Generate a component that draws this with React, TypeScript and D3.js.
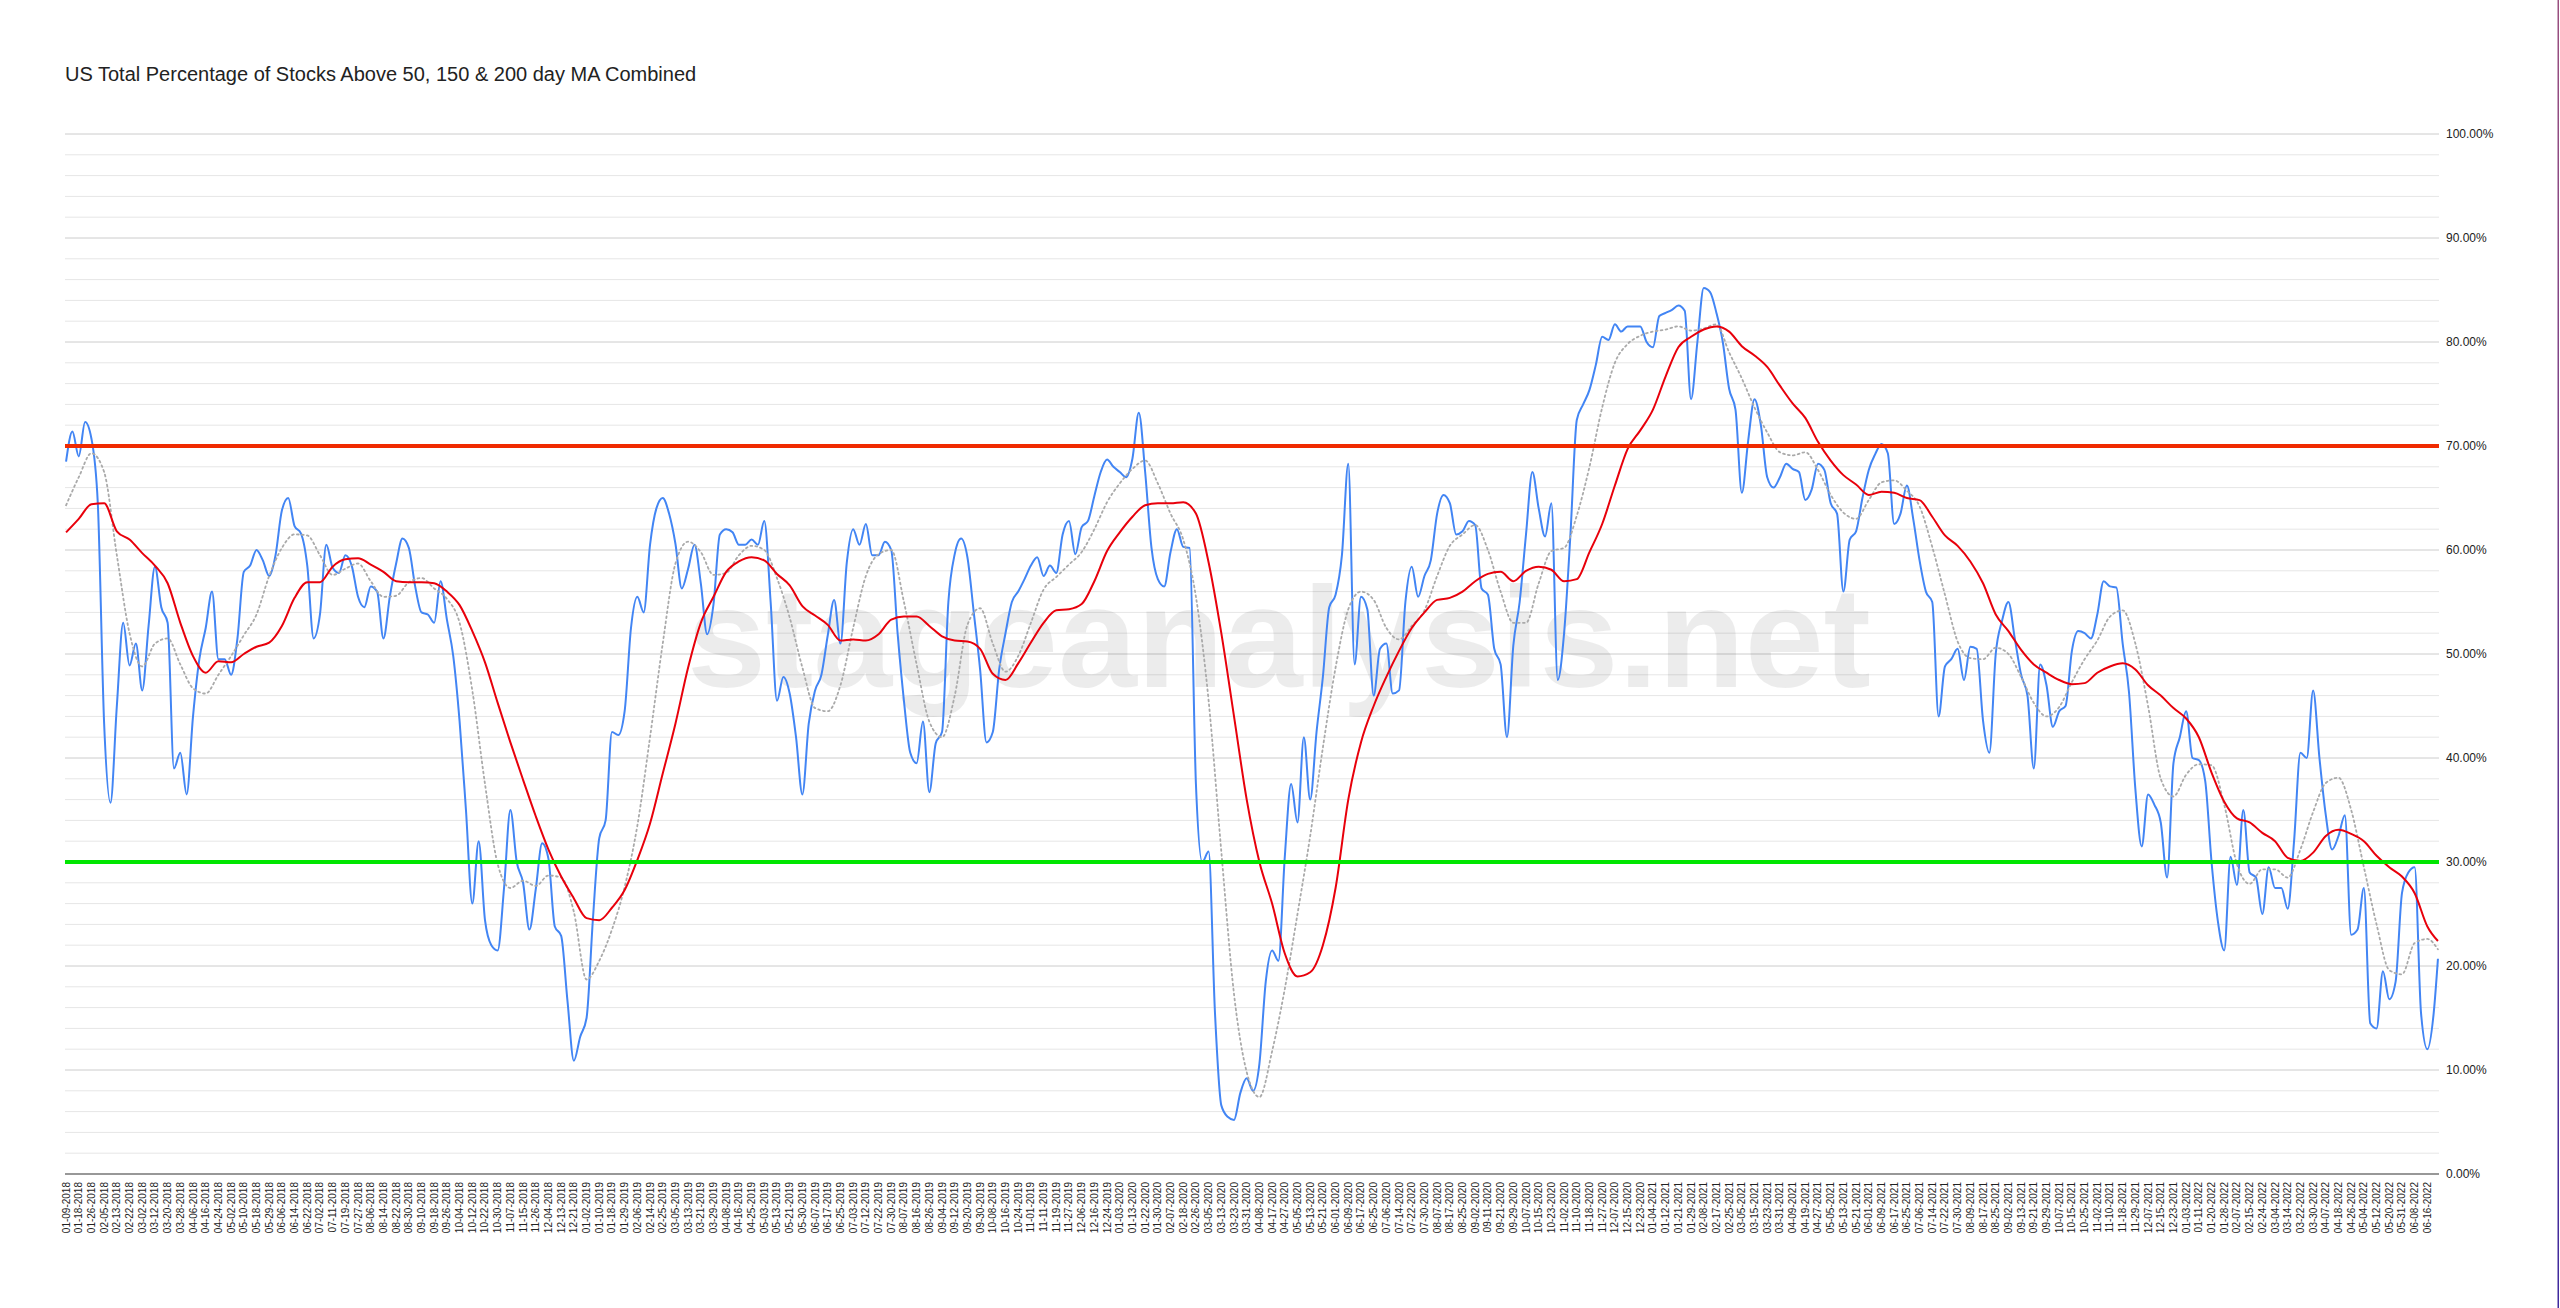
import React from 'react';
import * as d3 from 'd3';

const TITLE = 'US Total Percentage of Stocks Above 50, 150 & 200 day MA Combined';
const WATERMARK = 'stageanalysis.net';

// number of trading sessions on the axis (01-09-2018 .. 06-24-2022)
const SESSION_COUNT = 1122;
const LABEL_EVERY = 6; // a date label every 6 sessions
const COMBINED_EVERY = 3; // combined % read every 3 sessions
const MA_EVERY = 6; // moving averages read every 6 sessions

const dateLabels = [
  '01-09-2018','01-18-2018','01-26-2018','02-05-2018','02-13-2018','02-22-2018','03-02-2018','03-12-2018','03-20-2018','03-28-2018',
  '04-06-2018','04-16-2018','04-24-2018','05-02-2018','05-10-2018','05-18-2018','05-29-2018','06-06-2018','06-14-2018','06-22-2018',
  '07-02-2018','07-11-2018','07-19-2018','07-27-2018','08-06-2018','08-14-2018','08-22-2018','08-30-2018','09-10-2018','09-18-2018',
  '09-26-2018','10-04-2018','10-12-2018','10-22-2018','10-30-2018','11-07-2018','11-15-2018','11-26-2018','12-04-2018','12-13-2018',
  '12-21-2018',
  '01-02-2019','01-10-2019','01-18-2019','01-29-2019','02-06-2019','02-14-2019','02-25-2019','03-05-2019','03-13-2019','03-21-2019',
  '03-29-2019','04-08-2019','04-16-2019','04-25-2019','05-03-2019','05-13-2019','05-21-2019','05-30-2019','06-07-2019','06-17-2019',
  '06-25-2019','07-03-2019','07-12-2019','07-22-2019','07-30-2019','08-07-2019','08-16-2019','08-26-2019','09-04-2019','09-12-2019',
  '09-20-2019','09-30-2019','10-08-2019','10-16-2019','10-24-2019','11-01-2019','11-11-2019','11-19-2019','11-27-2019','12-06-2019',
  '12-16-2019','12-24-2019',
  '01-03-2020','01-13-2020','01-22-2020','01-30-2020','02-07-2020','02-18-2020','02-26-2020','03-05-2020','03-13-2020','03-23-2020',
  '03-31-2020','04-08-2020','04-17-2020','04-27-2020','05-05-2020','05-13-2020','05-21-2020','06-01-2020','06-09-2020','06-17-2020',
  '06-25-2020','07-06-2020','07-14-2020','07-22-2020','07-30-2020','08-07-2020','08-17-2020','08-25-2020','09-02-2020','09-11-2020',
  '09-21-2020','09-29-2020','10-07-2020','10-15-2020','10-23-2020','11-02-2020','11-10-2020','11-18-2020','11-27-2020','12-07-2020',
  '12-15-2020','12-23-2020',
  '01-04-2021','01-12-2021','01-21-2021','01-29-2021','02-08-2021','02-17-2021','02-25-2021','03-05-2021','03-15-2021','03-23-2021',
  '03-31-2021','04-09-2021','04-19-2021','04-27-2021','05-05-2021','05-13-2021','05-21-2021','06-01-2021','06-09-2021','06-17-2021',
  '06-25-2021','07-06-2021','07-14-2021','07-22-2021','07-30-2021','08-09-2021','08-17-2021','08-25-2021','09-02-2021','09-13-2021',
  '09-21-2021','09-29-2021','10-07-2021','10-15-2021','10-25-2021','11-02-2021','11-10-2021','11-18-2021','11-29-2021','12-07-2021',
  '12-15-2021','12-23-2021',
  '01-03-2022','01-11-2022','01-20-2022','01-28-2022','02-07-2022','02-15-2022','02-24-2022','03-04-2022','03-14-2022','03-22-2022',
  '03-30-2022','04-07-2022','04-18-2022','04-26-2022','05-04-2022','05-12-2022','05-20-2022','05-31-2022','06-08-2022','06-16-2022',
];

// Combined % of stocks above 50/150/200 day MA (blue), every 3 sessions, last = final session
const combined = [
  68.5, 71.4, 69.0, 72.3, 70.7, 64.5, 43.3, 35.7, 45, 53,
  48.9, 51, 46.5, 52.7, 58.4, 54.5, 53, 39, 40.5, 36.5,
  44, 49.5, 52.5, 56, 49.5, 49.5, 48, 51.5, 57.9, 58.5,
  60, 59, 57.5, 59.5, 63.8, 65, 62.3, 61.6, 58.5, 51.5,
  53.8, 60.5, 58.3, 57.8, 59.5, 58.5, 55.5, 54.5, 56.5, 56,
  51.5, 55.5, 58.7, 61.1, 60.2, 56.5, 54, 53.8, 53, 57,
  53.3, 49.8, 43.5, 35, 26, 32, 24.4, 22, 21.5, 27.5,
  35, 30, 28, 23.5, 27.4, 31.8, 30.3, 23.8, 22.9, 16.6,
  10.9, 13.2, 15, 24.5, 32.3, 34, 42.5, 42.2, 44.5, 52.5,
  55.5, 54, 60.5, 64, 65, 63.5, 60.6, 56.3, 58.2, 60.5,
  56.8, 51.9, 54.8, 61.5, 62, 61.7, 60.5, 60.5, 61, 60.5,
  62.8, 55, 45.5, 47.8, 46.2, 42, 36.5, 43.3, 46.5, 48,
  51.8, 55.2, 51, 58.8, 62, 60.5, 62.5, 59.5, 59.5, 60.8,
  60, 52, 45.5, 40.5, 39.5, 43.5, 36.7, 41.4, 42.5, 55,
  59.6, 61.1, 59.3, 54, 48.5, 41.5, 42.5, 48.5, 52, 55,
  56, 57.2, 58.5, 59.3, 57.5, 58.5, 57.8, 61.5, 62.8, 59.6,
  62.2, 62.8, 65.2, 67.5, 68.7, 68, 67.5, 67, 68.8, 73.2,
  67.5, 60.2, 57.2, 56.5, 59.8, 62, 60.3, 60.2, 37.5, 30,
  31, 15.5, 6.6, 5.5, 5.2, 7.8, 9.2, 8, 10.6, 18.5,
  21.5, 20.5, 30.5, 37.5, 33.8, 42, 36, 42.5, 47.8, 54.5,
  55.7, 59.5, 68.3, 49, 55.5, 54.3, 46, 50.5, 51, 46.2,
  46.5, 55, 58.4, 55.5, 57.5, 59, 63.5, 65.3, 64.5, 61.5,
  61.8, 62.8, 62.4, 56.3, 55.7, 50.5, 49, 42, 50.8, 55,
  61.5, 67.5, 64, 61.3, 64.5, 47.5, 52, 61.5, 72.5, 74,
  75.4, 77.8, 80.5, 80.2, 81.7, 81, 81.5, 81.5, 81.5, 80,
  79.5, 82.5, 82.8, 83.1, 83.5, 83, 74.5, 80, 85.2, 84.8,
  82.8, 80, 75.5, 73.5, 65.5, 70.5, 74.5, 72, 67, 66,
  67, 68.3, 67.8, 67.5, 64.8, 65.8, 68.3, 67.7, 64.5, 63.5,
  56, 61, 61.8, 65, 67.7, 69.2, 70.2, 69.3, 62.5, 63.5,
  66.2, 63, 59, 56, 55, 44, 48.8, 49.5, 50.5, 47.5,
  50.7, 50.5, 43.6, 40.5, 50, 53.2, 55, 51.5, 48, 46,
  39, 49, 47, 43, 44.5, 45, 50.3, 52.2, 52, 51.5,
  53.8, 57, 56.5, 56.4, 51, 46.3, 37, 31.5, 36.5, 35.5,
  33.8, 28.5, 39.5, 42, 44.5, 40, 39.8, 37.8, 30, 24.3,
  21.5, 30.5, 27.8, 35, 29, 28.5, 25, 29.5, 27.5, 27.5,
  25.5, 32, 40.5, 40, 46.5, 40, 34.5, 31.2, 32.5, 34.5,
  23, 23.5, 27.5, 14.5, 14, 19.5, 16.8, 18.5, 27, 29,
  29.5, 15.5, 12, 15.5, 20.7,
];

// slow moving average (red), every 6 sessions, last = final session
const slowAverage = [
  61.7, 63, 64.4, 64.5, 61.8, 61, 59.7, 58.5, 56.8, 53,
  49.8, 48.2, 49.3, 49.2, 50, 50.7, 51.1, 52.7, 55.4, 56.9,
  56.9, 58.4, 59.1, 59.2, 58.6, 57.9, 57, 56.9, 56.9, 56.8,
  56, 54.7, 52.2, 49.2, 45.3, 41.5, 37.9, 34.4, 31.2, 28.6,
  26.5, 24.6, 24.4, 25.6, 27.3, 30.2, 33.7, 38.5, 43.3, 48.7,
  53, 55.5, 57.9, 58.9, 59.3, 59, 57.7, 56.6, 54.6, 53.7,
  52.8, 51.3, 51.4, 51.3, 51.9, 53.3, 53.6, 53.6, 52.7, 51.7,
  51.3, 51.2, 50.5, 48.1, 47.5, 49.1, 51.1, 53, 54.2, 54.3,
  54.8, 57, 59.9, 61.7, 63.2, 64.3, 64.5, 64.5, 64.6, 63.5,
  58.8, 52, 44, 36, 30, 26, 21.2, 19, 19.4, 22,
  27.5, 36, 41.5, 45, 47.8, 50.3, 52.5, 54, 55.2, 55.4,
  56, 57, 57.7, 57.9, 57, 58, 58.4, 58.1, 57, 57.2,
  59.8, 62.5, 66.2, 69.7, 71.5, 73.5, 76.7, 79.5, 80.5, 81.2,
  81.5, 81, 79.6, 78.7, 77.6, 75.8, 74.1, 72.7, 70.4, 68.6,
  67.2, 66.3, 65.3, 65.6, 65.5, 65, 64.8, 63.2, 61.4, 60.4,
  58.9, 56.8, 53.8, 52.2, 50.4, 49, 48.2, 47.5, 47.1, 47.2,
  48.2, 48.8, 49.1, 48.5, 47, 46, 44.8, 43.8, 42, 38.6,
  35.8, 34.2, 33.8, 32.8, 32, 30.4, 30.1, 30.9, 32.5, 33.1,
  32.7, 32, 30.6, 29.5, 28.6, 27, 23.8, 22.4,
];

// fast moving average (grey dotted), every 6 sessions, last = final session
const fastAverage = [
  64.3, 67, 69.3, 67.5, 59.5, 52, 48.8, 51, 51.5, 49,
  46.7, 46.2, 48, 49.8, 51.8, 53.8, 57.5, 60.2, 61.5, 61.4,
  59.5, 57.6, 58.2, 58.7, 57, 55.5, 55.6, 56.9, 57.3, 56.3,
  55.3, 53, 46.5, 37.5, 29.8, 27.5, 28.2, 27.7, 28.7, 28.5,
  25.2, 18.7, 20.5, 23.5, 27.6, 33.5, 42, 51, 58.7, 60.8,
  59.8, 57.6, 57.8, 59.5, 60.4, 60, 57.3, 53.5, 48.7, 44.8,
  44.5, 47, 52.5, 57.5, 59.6, 60, 55, 49, 43.5, 42,
  46, 52.8, 54.4, 51, 48.3, 49.8, 53, 56.2, 57.4, 58.6,
  59.8, 62, 64.6, 66.4, 67.8, 68.6, 66.4, 63.5, 61, 55.5,
  45.5, 31, 17.3, 9.8, 7.4, 11.8, 17.8, 25, 32.5, 41,
  48.7, 54.3, 56, 55.2, 52.5, 51.4, 52.7, 54.2, 57.5, 60.4,
  61.5, 62.4, 60, 56, 53, 53, 56.8, 59.9, 60.2, 63.3,
  68, 73.7, 78, 79.8, 80.6, 81, 81.2, 81.5, 81.1, 81.3,
  81.7, 79, 76.5, 73.7, 71.3, 69.4, 69.1, 69.4, 67.7, 65.3,
  63.6, 63, 64.8, 66.5, 66.7, 65.7, 64.2, 60.3, 55.7, 51.2,
  49.6, 49.5, 50.6, 50, 47.8, 45.3, 44, 44.9, 47.3, 49.5,
  51.3, 53.6, 54.2, 51, 45, 38, 36.3, 38.4, 39.4, 39.3,
  35.5, 29.8, 27.9, 29.3, 29.3, 28.5, 31.2, 34.8, 37.6, 38.1,
  35, 29.5, 24, 19.6, 19.2, 22.2, 22.6, 21.6,
];

const upperLevel = 70;
const lowerLevel = 30;
const yTicks = [0, 10, 20, 30, 40, 50, 60, 70, 80, 90, 100];
const yMinorStep = 2;

const FONT = '"Liberation Sans", Arial, Helvetica, sans-serif';

export default function App() {
  const W = 2560;
  const H = 1308;
  const left = 65;
  const right = 2439;
  const top = 134;
  const bottom = 1174;

  const x = d3.scaleLinear().domain([-0.5, SESSION_COUNT - 0.5]).range([left, right]);
  const y = d3.scaleLinear().domain([0, 100]).range([bottom, top]);

  const line = d3
    .line<[number, number]>()
    .x((d) => x(d[0]))
    .y((d) => y(d[1]))
    .curve(d3.curveMonotoneX);

  const toPts = (arr: number[], step: number): [number, number][] =>
    arr.map((v, i) => [Math.min(i * step, SESSION_COUNT - 1), v]);

  const bluePath = line(toPts(combined, COMBINED_EVERY)) || '';
  const redPath = line(toPts(slowAverage, MA_EVERY)) || '';
  const greyPath = line(toPts(fastAverage, MA_EVERY)) || '';

  const gridVals = d3.range(yMinorStep, 100 + 0.001, yMinorStep);

  return (
    <svg
      width={W}
      height={H}
      viewBox={`0 0 ${W} ${H}`}
      style={{ position: 'absolute', left: 0, top: 0, background: '#fff' }}
      fontFamily={FONT}
    >
      <defs>
        <linearGradient id="edge" x1="0" y1="0" x2="0" y2="1">
          <stop offset="0" stopColor="#9a4f7f" />
          <stop offset="1" stopColor="#3f2a9e" />
        </linearGradient>
      </defs>
      <rect x={0} y={0} width={W} height={H} fill="#fff" />

      <text x={65} y={81} fontSize={20} fill="#222">
        {TITLE}
      </text>

      {/* gridlines */}
      {gridVals.map((v) => {
        const major = Math.round(v) % 10 === 0;
        return (
          <line
            key={v}
            x1={left}
            x2={right}
            y1={y(v)}
            y2={y(v)}
            stroke={major ? '#cccccc' : '#e6e6e6'}
            strokeWidth={1}
          />
        );
      })}

      {/* watermark */}
      <text x={687} y={687} fontSize={142} fontWeight="bold" fill="#000" fillOpacity={0.075}>
        {WATERMARK}
      </text>

      {/* baseline */}
      <line x1={left} x2={right} y1={y(0)} y2={y(0)} stroke="#333" strokeWidth={1.2} />

      {/* y labels */}
      {yTicks.map((v) => (
        <text key={v} x={2446} y={y(v)} dy="0.35em" fontSize={12} fill="#222">
          {v.toFixed(2)}%
        </text>
      ))}

      {/* x labels */}
      {dateLabels.map((lab, k) => (
        <text
          key={lab + k}
          transform={`translate(${x(k * LABEL_EVERY)},${1182}) rotate(-90)`}
          textAnchor="end"
          dy="0.35em"
          fontSize={10}
          fill="#222"
        >
          {lab}
        </text>
      ))}

      {/* series */}
      <path d={bluePath} fill="none" stroke="#4285f4" strokeWidth={2} strokeLinejoin="round" />
      <path d={greyPath} fill="none" stroke="#aaaaaa" strokeWidth={1.8} strokeDasharray="1.8 3.2" strokeLinecap="round" />
      <path d={redPath} fill="none" stroke="#e8000b" strokeWidth={2} strokeLinejoin="round" />

      {/* thresholds */}
      <line x1={left} x2={right} y1={y(upperLevel)} y2={y(upperLevel)} stroke="#f02a00" strokeWidth={4} />
      <line x1={left} x2={right} y1={y(lowerLevel)} y2={y(lowerLevel)} stroke="#00e600" strokeWidth={4} />

      {/* right edge */}
      <rect x={2557.5} y={0} width={1.5} height={H} fill="url(#edge)" />
    </svg>
  );
}
